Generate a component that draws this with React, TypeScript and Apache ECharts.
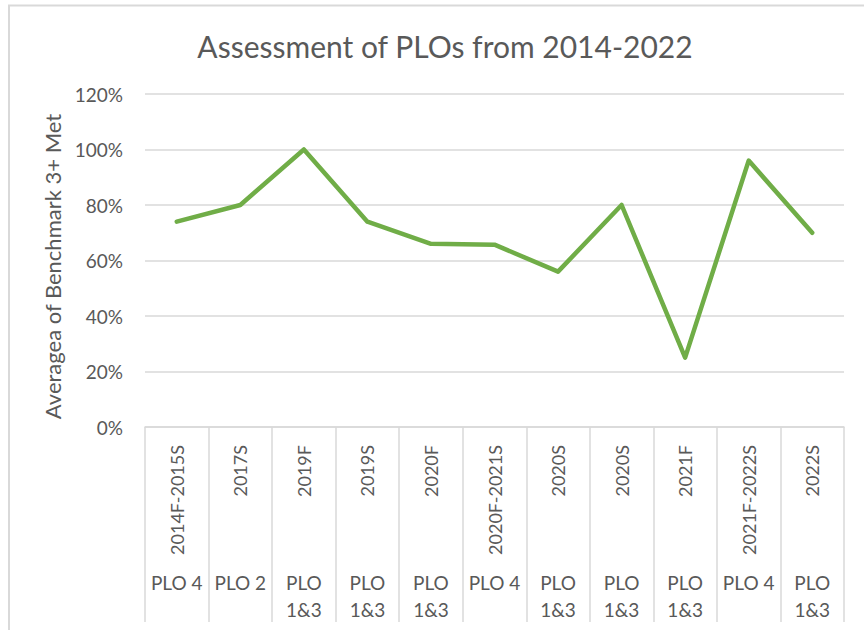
import React, { useEffect, useRef } from "react";
import * as echarts from "echarts";

const semesters = ["2014F-2015S", "2017S", "2019F", "2019S", "2020F", "2020F-2021S", "2020S", "2020S", "2021F", "2021F-2022S", "2022S"];
const plos = ["PLO 4", "PLO 2", "PLO 1&3", "PLO 1&3", "PLO 1&3", "PLO 4", "PLO 1&3", "PLO 1&3", "PLO 1&3", "PLO 4", "PLO 1&3"];
const values = [0.74, 0.8, 1.0, 0.74, 0.66, 0.657, 0.56, 0.8, 0.25, 0.96, 0.7];
const yTicks = [0, 0.2, 0.4, 0.6, 0.8, 1.0, 1.2];

const FONT = "Lato";
const TEXT = "#595959";
const GRID = "#D9D9D9";

export default function App() {
  const ref = useRef<HTMLDivElement>(null);
  useEffect(() => {
    if (!ref.current) return;
    const chart = echarts.init(ref.current, null, { renderer: "svg" });
    chart.setOption({
      animation: false,
      backgroundColor: "#ffffff",
      title: {
        text: "Assessment of PLOs from 2014-2022",
        left: 440,
        textAlign: "center",
        top: 26,
        textStyle: { fontFamily: FONT, fontSize: 30, fontWeight: "normal", color: TEXT },
      },
      graphic: [
        {
          type: "polyline",
          shape: { points: [[9, 630], [9, 5.5], [864, 5.5]] },
          style: { stroke: GRID, lineWidth: 2, fill: "none" },
        },
      ],
      grid: { left: 145, right: 20, top: 94, bottom: 203, containLabel: false },
      xAxis: [
        {
          type: "category",
          data: semesters,
          boundaryGap: true,
          axisLine: { show: true, lineStyle: { color: GRID, width: 1.5 } },
          axisTick: { show: true, interval: 0, length: 195, lineStyle: { color: GRID, width: 1.5 } },
          axisLabel: {
            interval: 0,
            rotate: 90,
            margin: 18,
            fontFamily: FONT,
            fontSize: 18,
            color: TEXT,
          },
        },
        {
          type: "category",
          data: plos,
          position: "bottom",
          offset: 140,
          boundaryGap: true,
          axisLine: { show: false },
          axisTick: { show: false },
          axisLabel: {
            interval: 0,
            margin: 2,
            fontFamily: FONT,
            fontSize: 19,
            lineHeight: 27,
            color: TEXT,
            formatter: (v: string) => (v === "PLO 1&3" ? "PLO\n1&3" : v),
          },
        },
      ],
      yAxis: {
        type: "value",
        min: yTicks[0],
        max: yTicks[yTicks.length - 1],
        interval: 0.2,
        name: "Averagea of Benchmark 3+ Met",
        nameLocation: "middle",
        nameGap: 82,
        nameTextStyle: { fontFamily: FONT, fontSize: 22, color: TEXT, padding: [0, 12, 0, 0] },
        axisLine: { show: false },
        axisTick: { show: false },
        splitLine: { show: true, lineStyle: { color: GRID, width: 1.5 } },
        axisLabel: {
          margin: 22,
          fontFamily: FONT,
          fontSize: 19,
          color: TEXT,
          formatter: (v: number) => Math.round(v * 100) + "%",
        },
      },
      series: [
        {
          type: "line",
          data: values,
          xAxisIndex: 0,
          symbol: "none",
          lineStyle: { color: "#70AD47", width: 4.5, cap: "round", join: "round" },
        },
      ],
    });
    return () => chart.dispose();
  }, []);
  return (
    <div
      ref={ref}
      style={{ position: "fixed", left: 0, top: 0, width: 864, height: 630 }}
    />
  );
}
